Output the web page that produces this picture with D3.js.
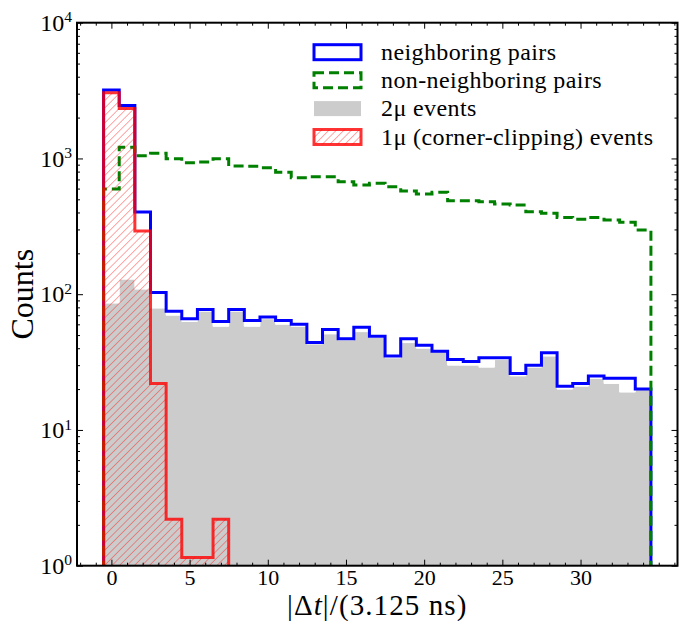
<!DOCTYPE html>
<html>
<head>
<meta charset="utf-8">
<script src="https://cdn.jsdelivr.net/npm/d3@7/dist/d3.min.js"></script>
<style>
  body { margin: 0; background: #fff; }
  svg { display: block; font-family: "Liberation Serif", "DejaVu Serif", serif; }
</style>
</head>
<body>
<div id="chart"></div>
<script>
// histogram bins (bin centres, width 1)
const binCenters = [0, 1, 2, 3, 4, 5, 6, 7, 8, 9, 10, 11, 12, 13, 14, 15, 16, 17,
  18, 19, 20, 21, 22, 23, 24, 25, 26, 27, 28, 29, 30, 31, 32, 33, 34];
const neighboring = [3190, 2460, 403, 103, 75, 66, 77, 63, 77, 64, 68, 64, 60, 44, 55, 47, 57, 49,
  35, 47, 42, 38, 33, 32, 34, 34, 26, 30, 37, 21, 22, 25, 24, 24, 20];
const nonNeighboring = [596, 1208, 1047, 1091, 996, 930, 942, 996, 880, 875, 855, 791, 721, 734, 734, 674, 637, 656,
  619, 575, 547, 563, 488, 488, 480, 461, 454, 405, 395, 368, 356, 368, 352, 339, 297];
const twoMu = [86, 129, 109, 79, 70, 63, 75, 58, 75, 58, 66, 60, 58, 43, 51, 46, 53, 48,
  34, 44, 40, 38, 30, 30, 29, 33, 25, 29, 35, 20, 21, 24, 22, 19, 20];
const oneMuBins = [0, 1, 2, 3, 4, 5, 6, 7];
const oneMu = [3050, 2330, 292, 22, 2.2, 1.15, 1.15, 2.2];

const xTicks = [0, 5, 10, 15, 20, 25, 30];
const xMinor = [-2, -1, 1, 2, 3, 4, 6, 7, 8, 9, 11, 12, 13, 14, 16, 17, 18, 19, 21, 22, 23, 24, 26, 27, 28, 29, 31, 32, 33, 34, 35, 36];
const yTicks = [1, 10, 100, 1000, 10000];
const legendLabels = ['neighboring pairs', 'non-neighboring pairs', '2\u03bc events', '1\u03bc (corner-clipping) events'];

const width = 679, height = 621;
const margin = { top: 22.7, right: 1.5, bottom: 55.3, left: 77 };
const w = width - margin.left - margin.right;
const h = height - margin.top - margin.bottom;

const svg = d3.select('#chart').append('svg')
  .attr('width', width)
  .attr('height', height);

const defs = svg.append('defs');
defs.append('clipPath').attr('id', 'plot-clip')
  .append('rect').attr('width', w).attr('height', h);

const hatch = defs.append('pattern')
  .attr('id', 'hatch')
  .attr('patternUnits', 'userSpaceOnUse')
  .attr('width', 5.3).attr('height', 10)
  .attr('patternTransform', 'rotate(45)');
hatch.append('line')
  .attr('x1', 0).attr('y1', 0).attr('x2', 0).attr('y2', 10)
  .attr('stroke', 'rgba(255,0,0,0.7)').attr('stroke-width', 1);

const g = svg.append('g').attr('transform', `translate(${margin.left},${margin.top})`);

const x = d3.scaleLinear().domain([-2.2, 36.2]).range([0, w]);
const yMinor = [];
for (let k = 0; k < 4; k++) for (let m = 2; m < 10; m++) yMinor.push(m * Math.pow(10, k));
const y = d3.scaleLog().domain([1, 10000]).range([h, 0]);

const yBase = h + 20;
function stepPoints(centers, values) {
  const pts = [[x(centers[0] - 0.5), yBase]];
  centers.forEach((c, i) => {
    pts.push([x(c - 0.5), y(values[i])]);
    pts.push([x(c + 0.5), y(values[i])]);
  });
  pts.push([x(centers[centers.length - 1] + 0.5), yBase]);
  return pts;
}
const line = d3.line();

const plot = g.append('g').attr('clip-path', 'url(#plot-clip)');

// 2mu events, filled grey
plot.append('path')
  .attr('d', line(stepPoints(binCenters, twoMu)) + 'Z')
  .attr('fill', '#cccccc')
  .attr('stroke', '#ffffff')
  .attr('stroke-width', 1);

// neighboring pairs
plot.append('path')
  .attr('d', line(stepPoints(binCenters, neighboring)))
  .attr('fill', 'none')
  .attr('stroke', '#0000ff')
  .attr('stroke-width', 3);

// non-neighboring pairs
plot.append('path')
  .attr('d', line(stepPoints(binCenters, nonNeighboring)))
  .attr('fill', 'none')
  .attr('stroke', '#008000')
  .attr('stroke-width', 3)
  .attr('stroke-dasharray', '10,5');

// 1mu corner clipping events
plot.append('path')
  .attr('d', line(stepPoints(oneMuBins, oneMu)) + 'Z')
  .attr('fill', 'url(#hatch)')
  .attr('stroke', 'rgba(255,0,0,0.8)')
  .attr('stroke-width', 3);

// axes
const xAxis = g.append('g').attr('transform', `translate(0,${h})`)
  .call(d3.axisBottom(x).tickValues(xTicks).tickSizeInner(-6).tickSizeOuter(0).tickPadding(4));
g.append('g').attr('transform', `translate(0,${h})`)
  .call(d3.axisBottom(x).tickValues(xMinor).tickSizeInner(-3).tickSizeOuter(0).tickFormat(''));
g.append('g')
  .call(d3.axisTop(x).tickValues(xTicks).tickSizeInner(-6).tickSizeOuter(0).tickFormat(''));
g.append('g')
  .call(d3.axisTop(x).tickValues(xMinor).tickSizeInner(-3).tickSizeOuter(0).tickFormat(''));

const yAxis = g.append('g')
  .call(d3.axisLeft(y).tickValues(yTicks).tickSizeInner(-6).tickSizeOuter(0).tickPadding(5).tickFormat(''));
g.append('g')
  .call(d3.axisLeft(y).tickValues(yMinor).tickSizeInner(-3).tickSizeOuter(0).tickFormat(''));
g.append('g').attr('transform', `translate(${w},0)`)
  .call(d3.axisRight(y).tickValues(yTicks).tickSizeInner(-6).tickSizeOuter(0).tickFormat(''));
g.append('g').attr('transform', `translate(${w},0)`)
  .call(d3.axisRight(y).tickValues(yMinor).tickSizeInner(-3).tickSizeOuter(0).tickFormat(''));

g.selectAll('.domain').remove();
g.selectAll('.tick line').attr('stroke', '#000').attr('stroke-width', 1);

xAxis.selectAll('text')
  .attr('font-size', 22)
  .attr('font-family', '"Liberation Serif", serif')
  .attr('fill', '#000');

yAxis.selectAll('.tick text')
  .attr('font-size', 24)
  .attr('font-family', '"Liberation Serif", serif')
  .attr('fill', '#000')
  .each(function (d) {
    const t = d3.select(this);
    t.append('tspan').text('10');
    t.append('tspan').attr('dy', '-0.55em').attr('font-size', '0.65em').text(Math.round(Math.log10(d)));
  });

// frame
g.append('rect')
  .attr('width', w).attr('height', h)
  .attr('fill', 'none')
  .attr('stroke', '#000')
  .attr('stroke-width', 2);

// axis titles
svg.append('text')
  .attr('x', margin.left + w / 2)
  .attr('y', 615)
  .attr('text-anchor', 'middle')
  .attr('font-size', 29)
  .attr('letter-spacing', 1.1)
  .attr('fill', '#000')
  .call(t => {
    t.append('tspan').text('|\u0394');
    t.append('tspan').attr('font-style', 'italic').text('t');
    t.append('tspan').text('|/(3.125 ns)');
  });

svg.append('text')
  .attr('transform', `translate(33,${margin.top + h / 2}) rotate(-90)`)
  .attr('text-anchor', 'middle')
  .attr('font-size', 32)
  .attr('fill', '#000')
  .text('Counts');

// legend
const legend = svg.append('g').attr('transform', 'translate(314,0)');
const rowY = [52.2, 80.2, 108.6, 137];
const patchW = 47, patchH = 15;
const styles = [
  { fill: 'none', stroke: '#0000ff', dash: null },
  { fill: 'none', stroke: '#008000', dash: '10,5' },
  { fill: '#cccccc', stroke: 'none', dash: null },
  { fill: 'url(#hatch)', stroke: 'rgba(255,0,0,0.8)', dash: null }
];
legendLabels.forEach((label, i) => {
  const row = legend.append('g').attr('transform', `translate(0,${rowY[i]})`);
  row.append('rect')
    .attr('x', 0).attr('y', -patchH / 2)
    .attr('width', patchW).attr('height', patchH)
    .attr('fill', styles[i].fill)
    .attr('stroke', styles[i].stroke)
    .attr('stroke-width', 3)
    .attr('stroke-dasharray', styles[i].dash);
  row.append('text')
    .attr('x', 67)
    .attr('y', 7.5)
    .attr('font-size', 24)
    .attr('letter-spacing', 0.4)
    .attr('fill', '#000')
    .text(label);
});
</script>
</body>
</html>
